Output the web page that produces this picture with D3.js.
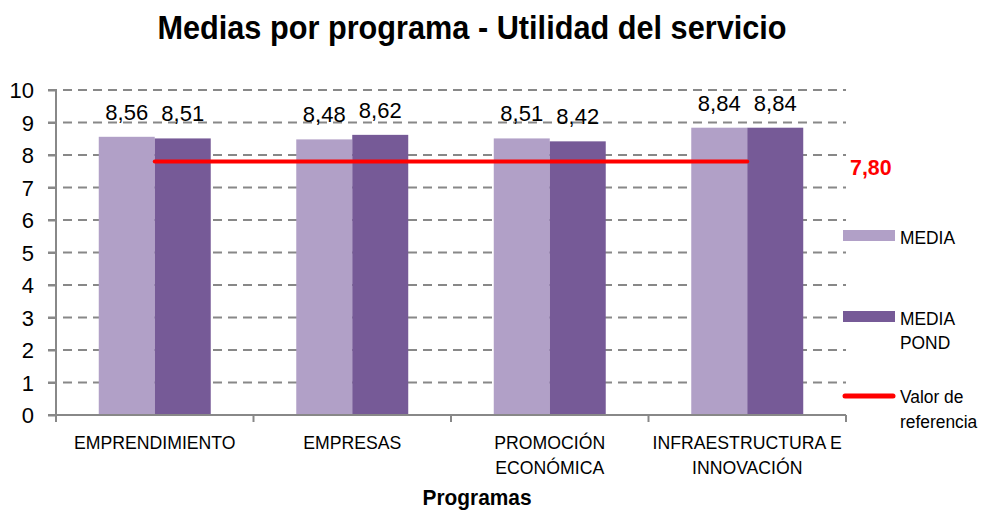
<!DOCTYPE html>
<html><head><meta charset="utf-8">
<script src="https://cdn.jsdelivr.net/npm/d3@7"></script>
<style>body{margin:0;background:#fff}svg{display:block}</style>
</head><body><svg id="c" width="985" height="513"></svg>
<script>
const categories = ["EMPRENDIMIENTO", "EMPRESAS", "PROMOCIÓN ECONÓMICA", "INFRAESTRUCTURA E INNOVACIÓN"];
const categoryLines = [["EMPRENDIMIENTO"], ["EMPRESAS"], ["PROMOCIÓN", "ECONÓMICA"], ["INFRAESTRUCTURA E", "INNOVACIÓN"]];
const media = [8.56, 8.48, 8.51, 8.84];
const mediaPond = [8.51, 8.62, 8.42, 8.84];
const referencia = 7.80;
const yTicks = [0,1,2,3,4,5,6,7,8,9,10];
const seriesNames = ["MEDIA", "MEDIA POND"];
const colors = ["#B1A0C7", "#765A97"];

const FONT = "'Liberation Sans Narrow','Arial Narrow','Liberation Sans',Arial,sans-serif";
const svg = d3.select("#c");
const L = 56, R = 846, T = 90, B = 415;
const y = d3.scaleLinear().domain([0,10]).range([B, T]);
const x0 = d3.scaleBand().domain(categories).range([L, R]).paddingInner(0.433).paddingOuter(0.2165);
const x1 = d3.scaleBand().domain(seriesNames).range([0, x0.bandwidth()]);
const fmt = v => v.toFixed(2).replace(".", ",");

function ntext(parent, x, yy, lines, o) {
  const g = parent.append("g").attr("transform", `translate(${x},${yy}) scale(${o.sx||1},1)`);
  const t = g.append("text").attr("text-anchor", o.anchor||"start").attr("font-family", FONT)
    .attr("font-size", o.size).attr("font-weight", o.bold ? "bold" : "normal").attr("fill", o.fill||"#000");
  lines.forEach((ln,k)=> t.append("tspan").attr("x",0).attr("y", k*(o.lh||0)).text(ln));
  return g;
}

// title
ntext(svg, 472, 39, ["Medias por programa - Utilidad del servicio"], {size:33, bold:true, anchor:"middle", sx:0.93});

// grid
svg.append("g").selectAll("line").data(yTicks.filter(d=>d>0)).join("line")
  .attr("x1", L-8).attr("x2", R).attr("y1", d=>y(d)).attr("y2", d=>y(d))
  .attr("stroke","#888").attr("stroke-width",2).attr("stroke-dasharray","9,6");

// y axis
const ya = svg.append("g").attr("transform",`translate(${L},0)`)
  .call(d3.axisLeft(y).tickValues(yTicks).tickSize(8).tickFormat(d3.format("d")));
ya.select(".domain").attr("stroke","#888").attr("stroke-width",2).attr("d",`M0,${T}V${B}`);
ya.selectAll(".tick line").attr("stroke","#888").attr("stroke-width",2);
ya.selectAll(".tick text").attr("font-family",FONT).attr("font-size",22).attr("fill","#000").attr("x",-22).attr("dy","0.35em");

// bars
const groups = svg.append("g").selectAll("g").data(categories).join("g")
  .attr("transform", d=>`translate(${x0(d)},0)`);
groups.each(function(c, i){
  const vals = [media[i], mediaPond[i]];
  const g = d3.select(this);
  g.selectAll("rect").data(vals).join("rect")
    .attr("x",(d,j)=>x1(seriesNames[j])).attr("width", x1.bandwidth())
    .attr("y", d=>y(d)).attr("height", d=>B-y(d)).attr("fill",(d,j)=>colors[j]);
  g.selectAll("text").data(vals).join("text")
    .attr("x",(d,j)=>x1(seriesNames[j])+x1.bandwidth()/2).attr("y", d=>y(d)-17)
    .attr("text-anchor","middle").attr("font-family",FONT).attr("font-size",22).attr("fill","#000")
    .text(d=>fmt(d));
});

// x axis
const xa = svg.append("g");
xa.append("line").attr("x1",L-8).attr("x2",R).attr("y1",B).attr("y2",B).attr("stroke","#888").attr("stroke-width",2);
const bounds = categories.map(c=>x0(c)-x0.step()*0.433/2).concat([R]);
xa.selectAll("line.t").data(bounds).join("line").attr("class","t")
  .attr("x1",d=>d).attr("x2",d=>d).attr("y1",B).attr("y2",B+7).attr("stroke","#888").attr("stroke-width",2);
categories.forEach((c,i)=>{
  ntext(svg, x0(c)+x0.bandwidth()/2, 449, categoryLines[i], {size:19, anchor:"middle", sx:0.93, lh:25});
});
ntext(svg, 477, 505, ["Programas"], {size:22, bold:true, anchor:"middle", sx:0.95});

// reference line
svg.append("line").attr("x1", x0(categories[0])+x0.bandwidth()/2).attr("x2", x0(categories[3])+x0.bandwidth()/2)
  .attr("y1", y(referencia)).attr("y2", y(referencia)).attr("stroke","#FF0000").attr("stroke-width",4).attr("stroke-linecap","round");
ntext(svg, 850, 175, [fmt(referencia)], {size:23, bold:true, fill:"#FF0000", sx:0.93});

// legend
const lg = svg.append("g");
lg.append("rect").attr("x",843).attr("y",230).attr("width",52).attr("height",11).attr("fill",colors[0]);
ntext(lg, 900, 244, ["MEDIA"], {size:18.5, sx:0.94});
lg.append("rect").attr("x",843).attr("y",311).attr("width",52).attr("height",11).attr("fill",colors[1]);
ntext(lg, 900, 325, ["MEDIA", "POND"], {size:18.5, sx:0.94, lh:24});
lg.append("line").attr("x1",845).attr("x2",893).attr("y1",396).attr("y2",396).attr("stroke","#FF0000").attr("stroke-width",5).attr("stroke-linecap","round");
ntext(lg, 900, 403, ["Valor de", "referencia"], {size:18.5, sx:0.94, lh:25});
</script></body></html>
